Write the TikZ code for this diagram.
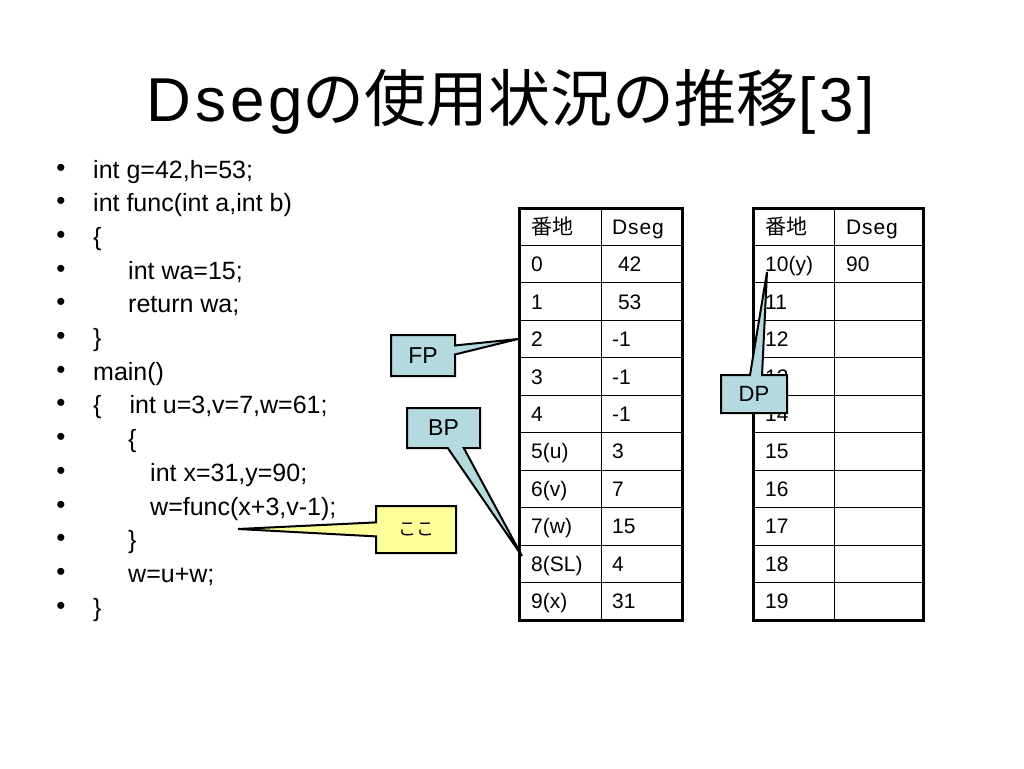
\documentclass[tikz,border=0pt]{standalone}
\usepackage{fontspec}
\setmainfont{Liberation Sans}
\newfontfamily\jpfont{Noto Sans CJK JP}
\usetikzlibrary{shapes.callouts}
\definecolor{tagblue}{RGB}{180,218,224}
\definecolor{tagyellow}{RGB}{255,255,153}
\tikzset{
  codeline/.style={anchor=base west, inner sep=0pt, font=\fontsize{25}{30}\selectfont},
  bulletmark/.style={anchor=center, inner sep=0pt, font=\fontsize{26}{30}\selectfont},
  cell/.style={anchor=base west, inner sep=0pt, font=\fontsize{21}{25}\selectfont},
  gridline/.style={line width=1pt},
  frame/.style={line width=3pt},
  tag/.style={rectangle callout, draw=black, line width=2pt, fill=tagblue,
    inner sep=0pt, callout pointer width=10pt, font=\fontsize{23}{28}\selectfont},
}

\begin{document}
\begin{tikzpicture}[x=1pt,y=-1pt]
    \useasboundingbox (0,0) rectangle (1024,768);
    \node[anchor=base, inner sep=0pt, font=\fontsize{62}{70}\selectfont] (title)
        at (511,121) {\addfontfeatures{LetterSpace=6}Dseg{\jpfont の使用状況の推移}[3]};

    % source lines
    \foreach \ind/\txt [count=\i from 0] in {93/{int g=42,h=53;}, 93/{int func(int a,int b)},
        93/{\{}, 128/{int wa=15;}, 128/{return wa;}, 93/{\}}, 93/{main()},
        93/{\{\hskip 28pt int u=3,v=7,w=61;}, 128/{\{}, 150/{int x=31,y=90;},
        150/{w=func(x+3,v-1);}, 128/{\}}, 128/{w=u+w;}, 93/{\}}}{
        \node[bulletmark] (b\i) at (61, {170+33.7*\i}) {\textbullet};
        \node[codeline] (c\i) at (\ind, {178+33.7*\i}) {\txt};
    }

    % tables
    \foreach \x/\m/\X in {519/601/682, 753/834/923}{
        \foreach \r in {1,...,10}
            \draw[gridline] (\x,{208+37.45*\r}) -- (\X,{208+37.45*\r});
        \draw[gridline] (\m,208) -- (\m,620);
        \draw[frame] (\x,208) rectangle (\X,620);
    }

    \node[cell] (la0) at (531,234.2) {\jpfont 番地};
    \node[cell] (lv0) at (612,234.2) {\addfontfeatures{LetterSpace=4}Dseg};
    \foreach \adr/\val [count=\r] in {0/~42, 1/~53, 2/-1, 3/-1, 4/-1, 5(u)/3,
        6(v)/7, 7(w)/15, 8(SL)/4, 9(x)/31}{
        \node[cell] (la\r) at (531, {234.2+37.45*\r}) {\adr};
        \node[cell] (lv\r) at (612, {234.2+37.45*\r}) {\val};
    }

    \node[cell] (ra0) at (765,234.2) {\jpfont 番地};
    \node[cell] (rv0) at (846,234.2) {\addfontfeatures{LetterSpace=4}Dseg};
    \node[cell] (rv1) at (846,271.65) {90};
    \foreach \adr [count=\r] in {10(y), 11, 12, 13, 14, 15, 16, 17, 18, 19}
        \node[cell] (ra\r) at (765, {234.2+37.45*\r}) {\adr};

    % pointers
    \coordinate (fptip) at (518,339);
    \coordinate (bptip) at (522,556);
    \coordinate (heretip) at (238,529);
    \coordinate (dptip) at (767,272);

    \node[tag, minimum width=64pt, minimum height=41pt, callout pointer width=9pt,
        callout absolute pointer={(fptip)}] (fp) at (423,355.5) {FP};
    \node[tag, minimum width=73pt, minimum height=40pt, callout pointer width=16pt,
        callout absolute pointer={(bptip)}] (bp) at (443.5,428) {BP};
    \node[tag, fill=tagyellow, minimum width=80pt, minimum height=47pt,
        callout pointer width=14pt, font=\jpfont\fontsize{18}{22}\selectfont,
        callout absolute pointer={(heretip)}] (here) at (416,529.5) {ここ};
    \node[tag, minimum width=66pt, minimum height=38pt, callout pointer width=12pt,
        font=\fontsize{22}{26}\selectfont,
        callout absolute pointer={(dptip)}] (dp) at (754,394) {DP};
\end{tikzpicture}
\end{document}
